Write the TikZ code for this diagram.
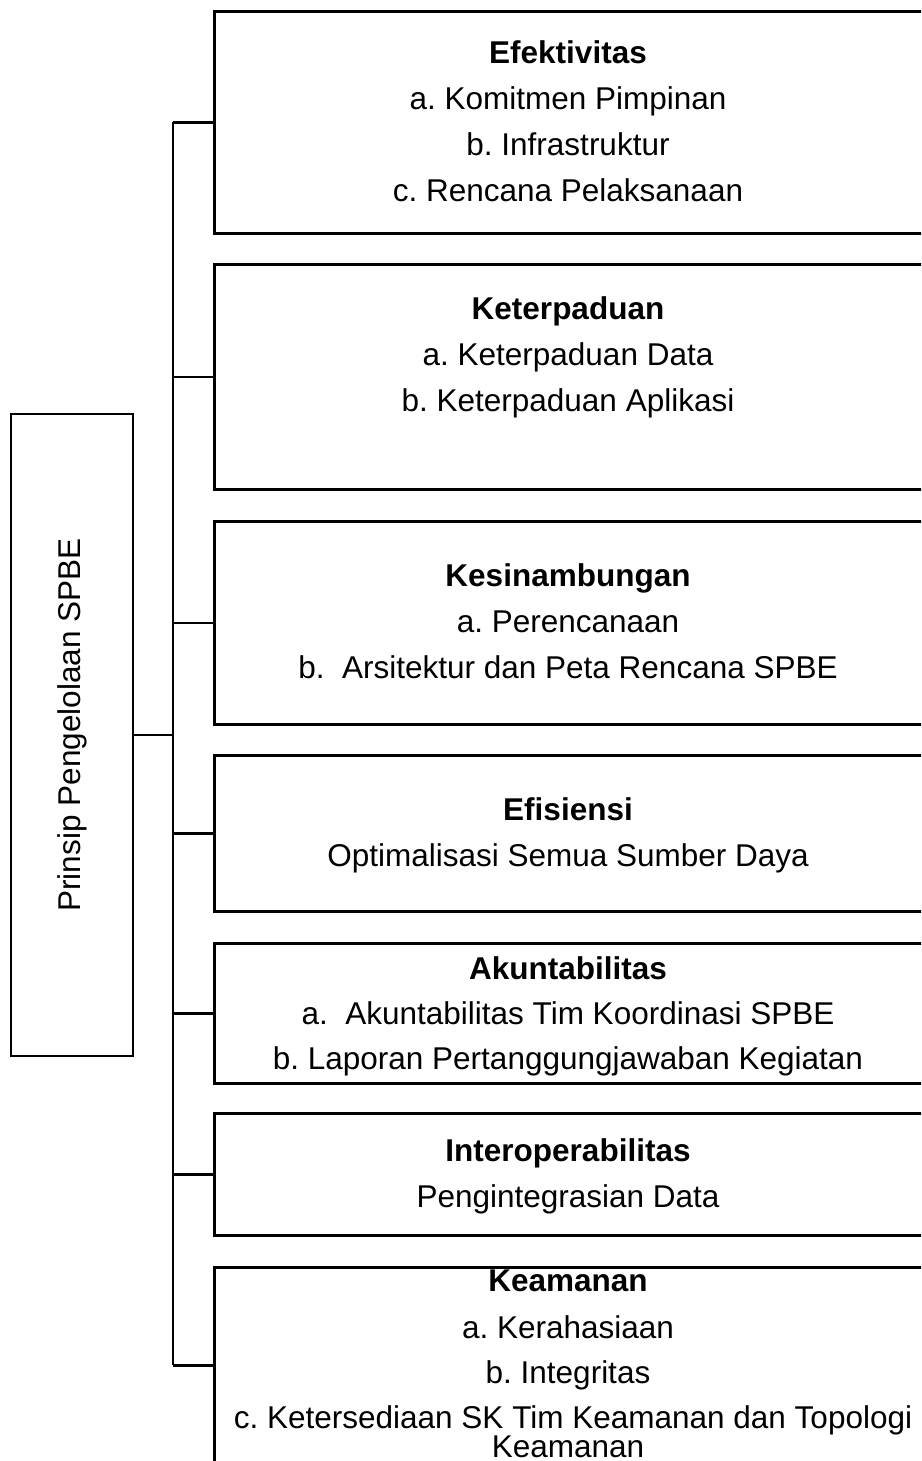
\documentclass[tikz,border=0pt]{standalone}
\usepackage{fontspec}
\setmainfont{Liberation Sans}
\frenchspacing
\begin{document}
\begin{tikzpicture}[x=1pt,y=-1pt,
  boxstyle/.style={draw=black,line width=2.8pt,inner sep=0pt,minimum width=710pt,anchor=north west},
  conn/.style={draw=black,line width=2.8pt},
  txt/.style={anchor=base,inner sep=0pt,font=\fontsize{31.5}{36}\selectfont},
  ttl/.style={txt,font=\fontsize{31.5}{36}\selectfont\bfseries}]
\useasboundingbox (0,0) rectangle (921,1461);
\clip (0,0) rectangle (921,1461);
% main box
\node[draw=black,line width=2.5pt,minimum width=122pt,minimum height=642pt,inner sep=0pt] (main) at (72,735) {};
\node[txt,anchor=center,rotate=90] (maintxt) at (72,725) {Prinsip Pengelolaan SPBE};
% boxes
\node[boxstyle,minimum height=222pt] (b1) at (213,10) {};
\node[boxstyle,minimum height=225pt] (b2) at (213,263) {};
\node[boxstyle,minimum height=203pt] (b3) at (213,520) {};
\node[boxstyle,minimum height=156pt] (b4) at (213,754) {};
\node[boxstyle,minimum height=140pt] (b5) at (213,942) {};
\node[boxstyle,minimum height=122pt] (b6) at (213,1112) {};
\node[boxstyle,minimum height=196pt] (b7) at (213,1266) {};
% trunk
\coordinate (tx) at (173,0);
\coordinate (ttop) at (b1.west -| tx);
\coordinate (tbot) at (b7.west -| tx);
\coordinate (tmid) at (main.east -| tx);
\draw[conn] (ttop) -- (tbot);
\draw[conn] (main.east) -- (tmid);
\foreach \b in {b1,b2,b3,b4,b5,b6,b7}{
  \draw[conn] (\b.west -| tx) -- (\b.west);
}
% texts
\node[ttl] (t1) at (568,64) {Efektivitas};
\node[txt] (t1a) at (568,110) {a. Komitmen Pimpinan};
\node[txt] (t1b) at (568,155) {b. Infrastruktur};
\node[txt] (t1c) at (568,201) {c. Rencana Pelaksanaan};
\node[ttl] (t2) at (568,319) {Keterpaduan};
\node[txt] (t2a) at (568,365) {a. Keterpaduan Data};
\node[txt] (t2b) at (568,411) {b. Keterpaduan Aplikasi};
\node[ttl] (t3) at (568,586) {Kesinambungan};
\node[txt] (t3a) at (568,632) {a. Perencanaan};
\node[txt] (t3b) at (568,678) {b.\ \ Arsitektur dan Peta Rencana SPBE};
\node[ttl] (t4) at (568,820) {Efisiensi};
\node[txt] (t4a) at (568,866) {Optimalisasi Semua Sumber Daya};
\node[ttl] (t5) at (568,979) {Akuntabilitas};
\node[txt] (t5a) at (568,1024) {a.\ \ Akuntabilitas Tim Koordinasi SPBE};
\node[txt] (t5b) at (568,1069) {b. Laporan Pertanggungjawaban Kegiatan};
\node[ttl] (t6) at (568,1161) {Interoperabilitas};
\node[txt] (t6a) at (568,1207) {Pengintegrasian Data};
\node[ttl] (t7) at (568,1291) {Keamanan};
\node[txt] (t7a) at (568,1338) {a. Kerahasiaan};
\node[txt] (t7b) at (568,1383) {b. Integritas};
\node[txt] (t7c) at (573,1428) {c. Ketersediaan SK Tim Keamanan dan Topologi};
\node[txt] (t7d) at (568,1457) {Keamanan};
\end{tikzpicture}
\end{document}
